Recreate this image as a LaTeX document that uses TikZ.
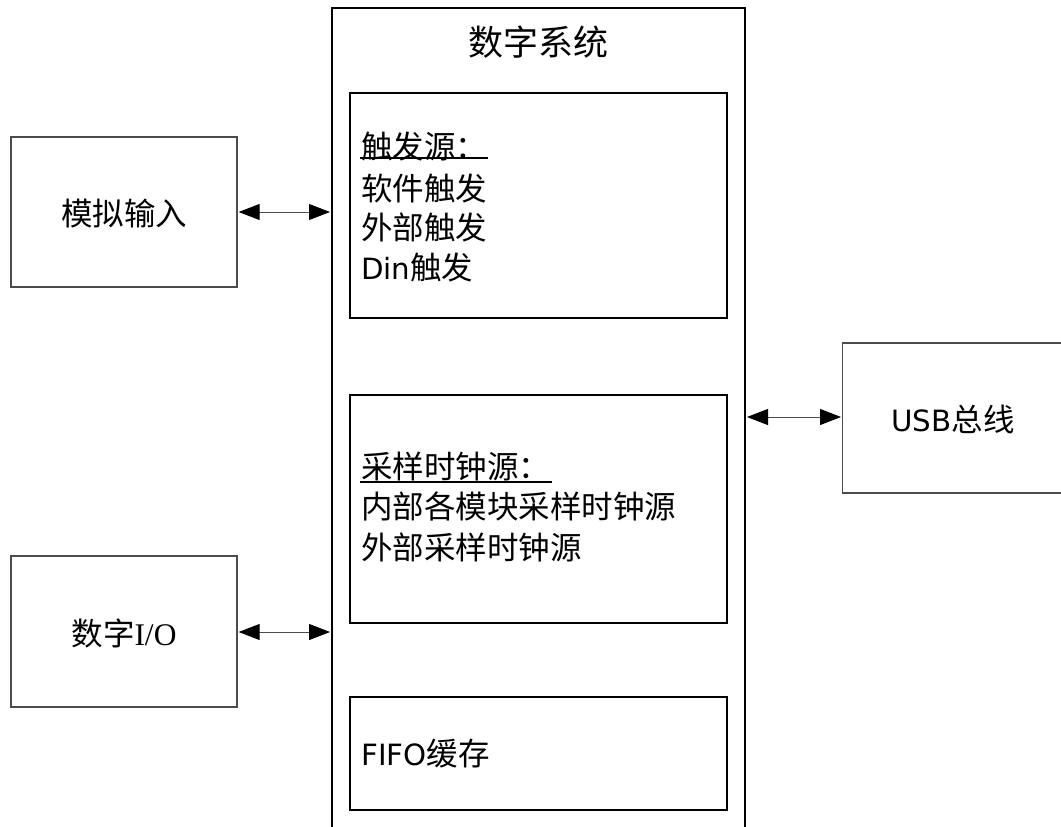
\documentclass[tikz,border=0pt]{standalone}
\usepackage{fontspec}
\setmainfont{Liberation Serif}
\newfontfamily\cjk{Noto Sans CJK SC}
\newfontfamily\lat[Scale=0.93]{DejaVu Sans}
\usetikzlibrary{arrows.meta}
\begin{document}
\begin{tikzpicture}[x=1pt,y=-1pt,
  outer/.style={draw=black!70,line width=1.3pt},
  inner/.style={draw=black,line width=1.3pt},
  lbl/.style={font=\fontsize{31.5}{40}\selectfont\cjk,inner sep=0pt},
  txt/.style={lbl,anchor=base west,align=left},
  ctr/.style={lbl,anchor=base},
  biarrow/.style={draw=black!70,line width=1pt,{Triangle[length=21pt,width=16pt,color=black]}-{Triangle[length=21pt,width=16pt,color=black]},shorten <=1pt,shorten >=1pt}]
\useasboundingbox (0,0) rectangle (1061,827);
\fill[white] (0,0) rectangle (1061,827);
% main system box (open at bottom)
\draw[line width=2pt] (332,840) -- (332,8) -- (745,8) -- (745,840);
\node[ctr,font=\fontsize{35}{40}\selectfont\cjk] (title) at (538,55) {数字系统};
% inner boxes
\draw[inner] (350,93) rectangle (727,318);
\draw[inner] (350,395) rectangle (727,623);
\draw[inner] (350,697) rectangle (727,810);
% trigger text
\node[txt] (t0) at (361,158) {触发源：};
\draw[line width=1.3pt] (360,158) -- (488,158);
\node[txt] (t1) at (361,200) {软件触发};
\node[txt] (t2) at (361,239) {外部触发};
\node[txt] (t3) at (361,279) {{\lat Din}触发};
% clock text
\node[txt] (c0) at (361,478) {采样时钟源：};
\draw[line width=1.3pt] (360,482) -- (552,482);
\node[txt] (c1) at (361,518) {内部各模块采样时钟源};
\node[txt] (c2) at (361,559) {外部采样时钟源};
% FIFO
\node[txt] (f0) at (361,765) {{\lat FIFO}缓存};
% side boxes
\node[outer,minimum width=226pt,minimum height=150pt,inner sep=0pt] (ai) at (124,212) {};
\node[ctr] at (124,225) {模拟输入};
\node[outer,minimum width=226pt,minimum height=151pt,inner sep=0pt] (dio) at (124,631.5) {};
\node[ctr] at (124,645) {数字{\rmfamily I/O}};
\node[outer,minimum width=240pt,minimum height=150pt,inner sep=0pt,anchor=west] (usb) at (842,418) {};
\node[ctr] at (953,431) {{\lat USB}总线};
% connectors
\coordinate (mL1) at (331,212);
\coordinate (mL2) at (331,632);
\coordinate (mR) at (746,417);
\draw[biarrow] (ai.east |- mL1) -- (mL1);
\draw[biarrow] (dio.east |- mL2) -- (mL2);
\draw[biarrow] (mR) -- (usb.west |- mR);
\end{tikzpicture}
\end{document}
